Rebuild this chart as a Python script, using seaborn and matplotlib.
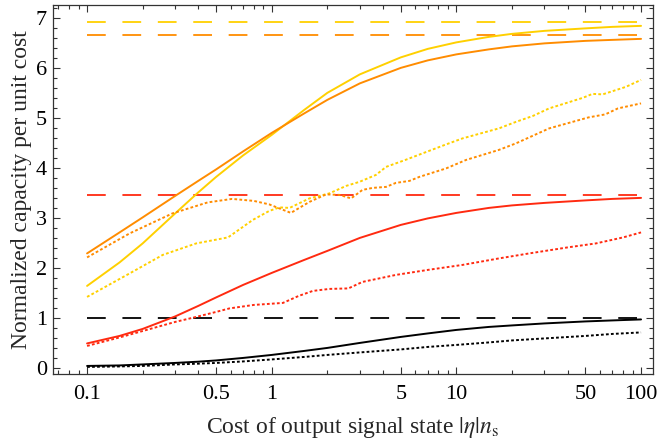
import numpy as np
import pandas as pd
import seaborn as sns
import matplotlib
matplotlib.use("Agg")
import matplotlib.pyplot as plt
from matplotlib.ticker import FixedLocator, NullFormatter


# solid curves share one grid
x_grid = [0.1, 0.15, 0.2, 0.3, 0.4, 0.5, 0.7, 1, 1.5, 2, 3, 5, 7, 10, 15, 20, 30, 50, 70, 100]
yellow_solid = [1.65, 2.12, 2.50, 3.10, 3.52, 3.83, 4.26, 4.67, 5.17, 5.51, 5.88, 6.22, 6.39, 6.52, 6.63, 6.69, 6.75, 6.80, 6.83, 6.85]
orange_solid = [2.30, 2.72, 3.02, 3.45, 3.75, 3.98, 4.34, 4.71, 5.10, 5.37, 5.70, 6.01, 6.16, 6.28, 6.38, 6.44, 6.50, 6.55, 6.57, 6.59]
red_solid = [0.50, 0.65, 0.79, 1.04, 1.25, 1.42, 1.67, 1.91, 2.17, 2.35, 2.61, 2.87, 3.00, 3.11, 3.21, 3.26, 3.31, 3.36, 3.39, 3.41]
black_solid = [0.05, 0.06, 0.08, 0.11, 0.135, 0.16, 0.21, 0.27, 0.35, 0.41, 0.51, 0.63, 0.70, 0.77, 0.83, 0.86, 0.90, 0.94, 0.96, 0.98]
black_dotted = [0.03, 0.04, 0.05, 0.08, 0.095, 0.11, 0.14, 0.18, 0.23, 0.27, 0.32, 0.38, 0.43, 0.47, 0.52, 0.56, 0.60, 0.65, 0.69, 0.72]

# dotted curves (bumpy, own x values)
yellow_dot_x = [0.1, 0.17, 0.257, 0.39, 0.58, 0.79, 0.97, 1.1, 1.25, 1.6, 2.05, 2.53, 2.98, 3.67, 4.16, 5.3,
                8.8, 10.8, 17, 21, 26, 31.8, 48.3, 54.6, 62, 82.7, 100]
yellow_dot_y = [1.43, 1.90, 2.27, 2.50, 2.62, 2.97, 3.15, 3.22, 3.21, 3.40, 3.50, 3.65, 3.73, 3.87, 4.03, 4.17,
                4.48, 4.60, 4.80, 4.93, 5.05, 5.20, 5.41, 5.49, 5.48, 5.63, 5.77]
orange_dot_x = [0.1, 0.17, 0.29, 0.45, 0.61, 0.8, 0.97, 1.1, 1.27, 1.6, 1.97, 2.33, 2.69, 3.1, 3.52, 4.16,
                4.7, 5.57, 6.3, 8.8, 11.3, 17, 21, 31.8, 52, 64, 75, 100]
orange_dot_y = [2.22, 2.70, 3.10, 3.32, 3.39, 3.35, 3.28, 3.20, 3.11, 3.33, 3.48, 3.47, 3.40, 3.57, 3.61, 3.63,
                3.71, 3.75, 3.83, 4.00, 4.17, 4.37, 4.50, 4.80, 5.02, 5.08, 5.20, 5.30]
red_dot_x = [0.1, 0.15, 0.21, 0.3, 0.39, 0.5, 0.59, 0.8, 1.15, 1.4, 1.67, 2.05, 2.6, 3.1, 4.7, 7, 10.8,
             17, 24.8, 40, 57, 80, 100]
red_dot_y = [0.45, 0.62, 0.77, 0.93, 1.03, 1.13, 1.20, 1.27, 1.31, 1.45, 1.55, 1.59, 1.60, 1.73, 1.87, 1.97, 2.07,
             2.20, 2.30, 2.42, 2.50, 2.62, 2.72]

# asymptotes
limit_x = [0.1, 100]
limits = {"yellow": 6.93, "orange": 6.66, "red": 3.46, "black": 1.0}

colors = {"yellow": "#FFD000", "orange": "#FF8C00", "red": "#FF2A10", "black": "#000000"}

x_ticks = [0.1, 0.5, 1, 5, 10, 50, 100]
x_ticklabels = ["0.1", "0.5", "1", "5", "10", "50", "100"]
y_ticks = [0, 1, 2, 3, 4, 5, 6, 7]


sns.set_style("ticks")
plt.rcParams["font.family"] = ["Liberation Serif", "DejaVu Serif"]
plt.rcParams["mathtext.fontset"] = "stix"
plt.rcParams["lines.scale_dashes"] = False

fig = plt.figure(figsize=(6.59, 4.42), dpi=100)
ax = fig.add_axes([0.0797, 0.154, 0.9107, 0.835])

dash = (0, (13.5, 12))
dot = (0, (2.0, 1.6))

for name, val in limits.items():
    sns.lineplot(x=limit_x, y=[val, val], ax=ax, color=colors[name], lw=1.3, linestyle=dash)

sns.lineplot(x=x_grid, y=yellow_solid, ax=ax, color=colors["yellow"], lw=1.4)
sns.lineplot(x=x_grid, y=orange_solid, ax=ax, color=colors["orange"], lw=1.4)
sns.lineplot(x=x_grid, y=red_solid, ax=ax, color=colors["red"], lw=1.4)
sns.lineplot(x=x_grid, y=black_solid, ax=ax, color=colors["black"], lw=1.4)

sns.lineplot(x=yellow_dot_x, y=yellow_dot_y, ax=ax, color=colors["yellow"], lw=1.4, linestyle=dot)
sns.lineplot(x=orange_dot_x, y=orange_dot_y, ax=ax, color=colors["orange"], lw=1.4, linestyle=dot)
sns.lineplot(x=red_dot_x, y=red_dot_y, ax=ax, color=colors["red"], lw=1.4, linestyle=dot)
sns.lineplot(x=x_grid, y=black_dotted, ax=ax, color=colors["black"], lw=1.4, linestyle=dot)

ax.set_xscale("log")
ax.set_xlim(0.065, 115.6)
ax.set_ylim(-0.11, 7.27)

ax.xaxis.set_major_locator(FixedLocator(x_ticks))
ax.set_xticklabels(x_ticklabels)
minor_x = [m * 10.0 ** e for e in range(-2, 3) for m in range(1, 10)]
minor_x = [v for v in minor_x if v not in x_ticks]
ax.xaxis.set_minor_locator(FixedLocator(minor_x))
ax.xaxis.set_minor_formatter(NullFormatter())
ax.yaxis.set_major_locator(FixedLocator(y_ticks))
ax.yaxis.set_minor_locator(FixedLocator(np.arange(-0.2, 7.4, 0.2)))

ax.tick_params(which="both", direction="in", top=True, right=True, labeltop=False, labelright=False,
               width=0.8, colors="#333333", labelcolor="black", labelsize=16)
ax.tick_params(which="major", length=5)
ax.tick_params(which="minor", length=3)
ax.tick_params(axis="x", pad=8)
ax.tick_params(axis="y", pad=4)

for sp in ax.spines.values():
    sp.set_linewidth(0.9)
    sp.set_color("#333333")

ax.set_xlabel(r"Cost of output signal state $|\eta|n_\mathrm{s}$", fontsize=17, labelpad=8)
ax.set_ylabel("Normalized capacity per unit cost", fontsize=17, labelpad=3)

plt.savefig("out.png", dpi=100)
